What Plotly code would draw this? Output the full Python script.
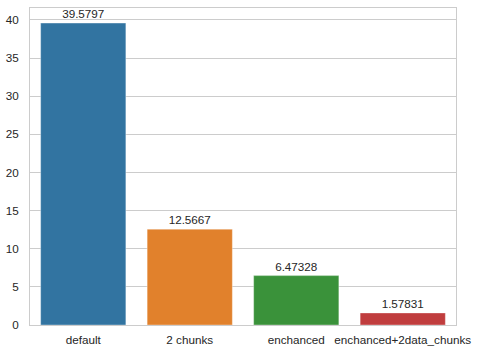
import plotly.graph_objects as go

categories = ["default", "2 chunks", "enchanced", "enchanced+2data_chunks"]
values = [39.5797, 12.5667, 6.47328, 1.57831]
labels = ["39.5797", "12.5667", "6.47328", "1.57831"]
colors = ["#3274a1", "#e1812c", "#3a923a", "#c03d3e"]
yticks = [0, 5, 10, 15, 20, 25, 30, 35, 40]

fig = go.Figure(go.Bar(
    x=categories, y=values, text=labels, textposition="outside",
    marker=dict(color=colors, line=dict(color="rgba(255,255,255,0.35)", width=1)),
    width=0.8, cliponaxis=False,
    textfont=dict(size=11.7, color="#262626"),
))
fig.update_layout(
    width=480, height=354,
    margin=dict(l=30, r=24, t=8, b=29, autoexpand=False),
    paper_bgcolor="white", plot_bgcolor="white",
    font=dict(family="Liberation Sans, Arial, sans-serif", size=11.7, color="#262626"),
    showlegend=False, bargap=0.2,
    xaxis=dict(showgrid=False, showline=True, linecolor="#cccccc", mirror=True,
               ticks="", ticklabelstandoff=4, automargin=False, tickfont=dict(size=11.7)),
    yaxis=dict(range=[0, 41.56], tickvals=yticks, showgrid=True, gridcolor="#cccccc",
               gridwidth=1, zeroline=False, showline=True, linecolor="#cccccc", mirror=True,
               ticks="", ticklabelstandoff=8, automargin=False, tickfont=dict(size=11.7)),
)
fig.write_html("out.html", config={"displayModeBar": False},
               post_script="document.body.style.margin='0';")
